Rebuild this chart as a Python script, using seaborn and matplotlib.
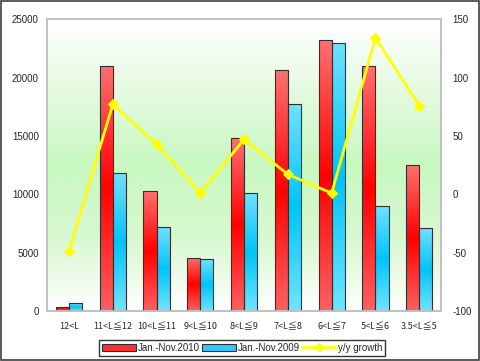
import numpy as np
import pandas as pd
import seaborn as sns
import matplotlib.pyplot as plt
from matplotlib.colors import LinearSegmentedColormap
from matplotlib.patches import Rectangle
from matplotlib.lines import Line2D

# Data
categories = ["12<L", "11<L≦12", "10<L≦11", "9<L≦10", "8<L≦9",
              "7<L≦8", "6<L≦7", "5<L≦6", "3.5<L≦5"]
sales_2010 = [350, 21000, 10270, 4540, 14800, 20630, 23200, 20980, 12500]
sales_2009 = [650, 11820, 7190, 4450, 10100, 17720, 22950, 8990, 7100]
growth = [-49, 77, 43, 1, 47, 17, 1, 134, 76]

sns.set_theme(style="white")
plt.rcParams['font.family'] = ['Liberation Sans', 'Noto Sans CJK SC']
plt.rcParams['axes.unicode_minus'] = False

df = pd.DataFrame({
    "cat": categories * 2,
    "value": sales_2010 + sales_2009,
    "series": ["Jan.-Nov.2010"] * 9 + ["Jan.-Nov.2009"] * 9,
})

fig = plt.figure(figsize=(4.8, 3.61), dpi=100)
ax = fig.add_axes([0.098, 0.1385, 0.821, 0.8085])

# background gradient white -> green -> white
bg = LinearSegmentedColormap.from_list("bg", ["#ffffff", "#e4fae0", "#c8f8c0", "#d8f8d0", "#ffffff"])
ax.imshow(np.linspace(0, 1, 256).reshape(-1, 1), cmap=bg, aspect="auto",
          extent=[-0.5, 8.5, 0, 25000], zorder=0, origin="upper")

sns.barplot(data=df, x="cat", y="value", hue="series", ax=ax,
            palette=["#ff2020", "#20c8ff"], width=0.6, edgecolor="#303030",
            linewidth=0.8, legend=False, zorder=2)

red_cm = LinearSegmentedColormap.from_list("r", ["#ff7070", "#ff0000", "#ff6060"])
blue_cm = LinearSegmentedColormap.from_list("b", ["#70e0ff", "#00c4f8", "#70e4ff"])
grad = np.linspace(0, 1, 128).reshape(-1, 1)
for i, p in enumerate(ax.patches):
    cm = red_cm if i < 9 else blue_cm
    x0, y0, w, h = p.get_x(), p.get_y(), p.get_width(), p.get_height()
    im = ax.imshow(grad, cmap=cm, aspect="auto", extent=[x0, x0 + w, y0, y0 + h],
                   zorder=2.5, origin="upper")
    im.set_clip_path(p)
    p.set_facecolor("none")
    p.set_zorder(3)

ax.set_xlim(-0.5, 8.5)
ax.set_ylim(0, 25000)
ax.set_yticks(range(0, 25001, 5000))
ax.set_xlabel("")
ax.set_ylabel("")
ax.tick_params(axis="both", labelsize=7, length=0, pad=6)
ax.tick_params(axis="x", pad=8)
for lbl in ax.get_xticklabels():
    lbl.set_family(['Noto Sans CJK SC', 'DejaVu Sans'])
    lbl.set_fontsize(6.5)
for s in ax.spines.values():
    s.set_color("#c0c0c0")

ax2 = ax.twinx()
sns.lineplot(x=np.arange(9), y=growth, ax=ax2, color="#ffff00", linewidth=2,
             marker="D", markersize=5, markeredgecolor="#ffff00", zorder=5)
ax2.set_ylim(-100, 150)
ax2.set_yticks(range(-100, 151, 50))
ax2.tick_params(axis="y", labelsize=7, length=0, pad=8)
for s in ax2.spines.values():
    s.set_color("#c0c0c0")

handles = [Rectangle((0, 0), 1, 1, facecolor="#ff3030", edgecolor="#303030", linewidth=0.8),
           Rectangle((0, 0), 1, 1, facecolor="#30c8ff", edgecolor="#303030", linewidth=0.8),
           Line2D([], [], color="#ffff00", linewidth=2, marker="D", markersize=4)]
fig.legend(handles, ["Jan.-Nov.2010", "Jan.-Nov.2009", "y/y growth"],
           loc="center", bbox_to_anchor=(0.505, 0.037), ncol=3, fontsize=7,
           frameon=True, fancybox=False, edgecolor="#000000", handlelength=3.5,
           handletextpad=0.2, columnspacing=0.2, borderpad=0.3)

fig.add_artist(Rectangle((0.002, 0.003), 0.995, 0.994, transform=fig.transFigure,
                         fill=False, edgecolor="#404040", linewidth=1.2))

plt.savefig("out.png", dpi=100)
